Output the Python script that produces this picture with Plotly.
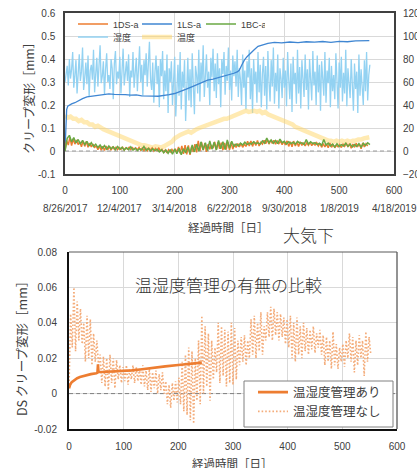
import plotly.graph_objects as go

# ---------------- data ----------------
# bottom chart / 1DS-a (no temperature-humidity control)  [day, mm]
ds_days = [0,3,6,9,12,15,18,21,24,27,30,33,36,39,42,45,48,51,54,57,
           60,63,66,69,72,75,78,81,84,87,90,93,96,99,102,105,108,111,114,117,
           120,123,126,129,132,135,138,141,144,147,150,153,156,159,162,165,168,171,174,177,
           180,183,186,189,192,195,198,201,204,207,210,213,216,219,222,225,228,231,234,237,
           240,243,246,249,252,255,258,261,264,267,270,273,276,279,282,285,288,291,294,297,
           300,303,306,309,312,315,318,321,324,327,330,333,336,339,342,345,348,351,354,357,
           360,363,366,369,372,375,378,381,384,387,390,393,396,399,402,405,408,411,414,417,
           420,423,426,429,432,435,438,441,444,447,450,453,456,459,462,465,468,471,474,477,
           480,483,486,489,492,495,498,501,504,507,510,513,516,519,522,525,528,531,534,537,
           540,543,546,549,552]
ds_vals = [0.003,0.045,0.026,0.060,0.024,0.052,0.030,0.048,0.028,0.040,0.018,0.044,0.020,0.042,0.016,0.034,0.018,0.030,0.016,0.022,
           0.006,0.021,0.004,0.020,0.002,0.022,0.006,0.020,0.003,0.019,0.008,0.016,0.006,0.015,0.007,0.016,0.005,0.014,0.008,0.016,
           0.006,0.015,0.007,0.014,0.005,0.016,0.004,0.013,0.002,0.014,0.001,0.012,0.003,0.013,0.000,0.011,0.002,0.012,0.000,0.007,
           -0.006,0.005,-0.008,0.006,-0.004,0.007,-0.005,0.009,-0.006,0.018,-0.010,0.022,-0.012,0.026,-0.015,0.024,-0.017,0.020,-0.004,0.030,
           -0.006,0.044,0.000,0.038,0.004,0.034,-0.004,0.030,0.008,0.026,0.012,0.040,0.006,0.038,0.010,0.036,0.004,0.035,0.006,0.040,
           0.005,0.037,0.008,0.030,0.016,0.032,0.018,0.033,0.016,0.030,0.020,0.042,0.022,0.044,0.020,0.040,0.024,0.046,0.022,0.038,
           0.030,0.046,0.032,0.049,0.030,0.048,0.033,0.046,0.030,0.045,0.032,0.043,0.028,0.042,0.026,0.044,0.020,0.040,0.018,0.043,
           0.022,0.038,0.020,0.040,0.024,0.037,0.022,0.036,0.025,0.038,0.023,0.034,0.026,0.036,0.022,0.033,0.016,0.032,0.018,0.030,
           0.014,0.035,0.016,0.028,0.014,0.026,0.018,0.028,0.015,0.030,0.020,0.034,0.018,0.032,0.012,0.030,0.016,0.033,0.020,0.030,
           0.010,0.035,0.018,0.032,0.022]

# bottom chart: with temperature-humidity control
ctrl_days = [0,2,5,10,15,20,29,40,50,52,53,54,60,70,84,100,115,130,150,176,200,220,237,243]
ctrl_vals = [0.003,0.005,0.0065,0.0078,0.0087,0.0094,0.0103,0.011,0.0115,0.0118,0.0165,0.0122,
             0.0122,0.0123,0.0124,0.0128,0.0131,0.0136,0.0142,0.0154,0.0162,0.0168,0.0172,0.0175]

# top chart: 1LS-a
ls_days = [0,1,2,3,5,8,12,18,25,32,40,50,60,70,80,90,100,110,120,130,
           140,150,160,170,180,190,200,210,220,230,240,250,260,270,280,290,300,308,315,318,
           322,327,332,338,345,352,360,370,382,395,410,425,440,455,470,485,500,515,530,545,555]
ls_vals = [0.0,0.10,0.16,0.18,0.195,0.20,0.205,0.21,0.22,0.228,0.235,0.238,0.242,0.245,0.248,0.246,0.247,0.245,0.243,0.244,
           0.240,0.241,0.239,0.238,0.240,0.245,0.250,0.258,0.268,0.278,0.288,0.298,0.308,0.312,0.318,0.325,0.330,0.338,0.345,0.352,
           0.372,0.395,0.410,0.425,0.440,0.455,0.462,0.468,0.472,0.470,0.474,0.471,0.475,0.473,0.476,0.472,0.477,0.475,0.479,0.481,0.480]

# top chart: 1BC-a (4-day samples)
d4_days = [0,4,8,12,16,20,24,28,32,36,40,44,48,52,56,60,64,68,72,76,
           80,84,88,92,96,100,104,108,112,116,120,124,128,132,136,140,144,148,152,156,
           160,164,168,172,176,180,184,188,192,196,200,204,208,212,216,220,224,228,232,236,
           240,244,248,252,256,260,264,268,272,276,280,284,288,292,296,300,304,308,312,316,
           320,324,328,332,336,340,344,348,352,356,360,364,368,372,376,380,384,388,392,396,
           400,404,408,412,416,420,424,428,432,436,440,444,448,452,456,460,464,468,472,476,
           480,484,488,492,496,500,504,508,512,516,520,524,528,532,536,540,544,548,552,556]
bc_vals = [0.000,0.055,0.068,0.040,0.058,0.035,0.050,0.030,0.046,0.028,0.042,0.022,0.036,0.020,0.030,0.015,0.026,0.012,0.024,0.008,
           0.022,0.010,0.018,0.006,0.020,0.008,0.016,0.004,0.014,0.006,0.018,0.004,0.012,0.002,0.010,0.004,0.020,0.003,0.012,0.000,
           0.010,0.002,0.008,-0.004,0.006,-0.008,0.004,-0.010,0.006,-0.014,0.008,-0.012,0.012,-0.016,0.010,-0.008,0.018,-0.012,0.026,-0.004,
           0.030,0.000,0.040,0.004,0.036,0.002,0.044,0.008,0.038,0.004,0.046,0.010,0.040,0.006,0.048,0.012,0.042,0.020,0.030,0.022,
           0.034,0.026,0.038,0.028,0.034,0.030,0.040,0.032,0.036,0.030,0.044,0.034,0.056,0.036,0.048,0.034,0.046,0.032,0.052,0.036,
           0.042,0.030,0.040,0.032,0.038,0.030,0.042,0.034,0.036,0.028,0.050,0.030,0.040,0.032,0.036,0.028,0.034,0.024,0.050,0.026,
           0.034,0.022,0.030,0.018,0.032,0.020,0.028,0.022,0.034,0.020,0.030,0.018,0.028,0.020,0.032,0.016,0.034,0.024,0.036,0.028]

# top chart: humidity (2-day samples, %)
d2_days = [0,2,4,6,8,10,12,14,16,18,20,22,24,26,28,30,32,34,36,38,
           40,42,44,46,48,50,52,54,56,58,60,62,64,66,68,70,72,74,76,78,
           80,82,84,86,88,90,92,94,96,98,100,102,104,106,108,110,112,114,116,118,
           120,122,124,126,128,130,132,134,136,138,140,142,144,146,148,150,152,154,156,158,
           160,162,164,166,168,170,172,174,176,178,180,182,184,186,188,190,192,194,196,198,
           200,202,204,206,208,210,212,214,216,218,220,222,224,226,228,230,232,234,236,238,
           240,242,244,246,248,250,252,254,256,258,260,262,264,266,268,270,272,274,276,278,
           280,282,284,286,288,290,292,294,296,298,300,302,304,306,308,310,312,314,316,318,
           320,322,324,326,328,330,332,334,336,338,340,342,344,346,348,350,352,354,356,358,
           360,362,364,366,368,370,372,374,376,378,380,382,384,386,388,390,392,394,396,398,
           400,402,404,406,408,410,412,414,416,418,420,422,424,426,428,430,432,434,436,438,
           440,442,444,446,448,450,452,454,456,458,460,462,464,466,468,470,472,474,476,478,
           480,482,484,486,488,490,492,494,496,498,500,502,504,506,508,510,512,514,516,518,
           520,522,524,526,528,530,532,534,536,538,540,542,544,546,548,550,552,554,556]
hum_vals = [60,68,74,57,80,63,71,86,55,66,79,50,72,84,61,69,90,53,64,77,
            58,83,47,70,75,62,88,51,67,81,56,73,92,59,65,78,49,71,85,60,
            66,54,80,72,45,76,87,58,69,63,82,50,74,89,57,68,78,61,84,47,
            70,64,86,55,73,81,52,67,91,60,75,48,79,66,85,56,71,95,62,53,
            77,42,68,83,58,74,38,80,65,87,45,70,52,84,33,72,60,78,40,66,
            82,30,63,75,48,86,36,69,55,79,26,64,81,44,71,38,85,58,32,74,
            66,50,88,43,77,60,92,47,73,84,55,69,40,81,64,89,52,76,46,85,
            58,72,38,80,67,86,49,74,61,90,53,70,44,83,65,78,56,88,47,72,
            62,40,84,55,70,36,78,64,88,45,72,33,80,58,69,42,86,51,75,38,
            67,82,48,74,36,87,60,43,79,56,90,41,68,52,84,37,72,63,46,81,
            55,70,39,86,62,45,76,34,82,58,68,41,88,50,73,37,79,61,47,84,
            53,71,36,80,64,44,87,57,69,40,83,51,75,35,78,62,48,86,42,70,
            59,81,38,74,52,66,45,85,60,37,77,55,82,43,68,50,88,39,72,57,
            46,80,63,35,76,54,69,33,84,48,71,58,40,79,52,86,44,66,75]

# top chart: temperature (5-day samples, deg C)
t_days = [0,5,10,15,20,25,30,35,40,45,50,55,60,65,70,75,80,85,90,95,
          100,105,110,115,120,125,130,135,140,145,150,155,160,165,170,175,180,185,190,195,
          200,205,210,215,220,225,230,235,240,245,250,255,260,265,270,275,280,285,290,295,
          300,305,310,315,320,325,330,335,340,345,350,355,360,365,370,375,380,385,390,395,
          400,405,410,415,420,425,430,435,440,445,450,455,460,465,470,475,480,485,490,495,
          500,505,510,515,520,525,530,535,540,545,550,555]
t_vals = [31,29,30,28,28,26,27,25,25,23,23,21,22,20,19,18,17,16,15,13,
          12,11,10,9,8,7,7,6,5,5,4,4,3,4,3,3,4,5,6,8,
          11,13,14,15,16,17,16,18,19,20,21,22,23,24,24,25,26,27,28,28,
          29,30,31,32,33,34,35,34,35,35,34,35,33,34,32,31,31,30,29,28,
          27,25,24,23,21,20,19,17,16,15,14,13,12,11,10,10,9,9,8,9,
          8,9,8,9,8,9,9,10,10,11,12,12]

zero_x = [0, 600]
zero_y = [0, 0]

x_ticks = [0, 100, 200, 300, 400, 500, 600]
date_labels = ["8/26/2017", "12/4/2017", "3/14/2018", "6/22/2018", "9/30/2018", "1/8/2019", "4/18/2019"]
top_y_vals = [-0.1, 0, 0.1, 0.2, 0.3, 0.4, 0.5, 0.6]
top_y_text = ["-0.1", "0", "0.1", "0.2", "0.3", "0.4", "0.5", "0.6"]
right_y_vals = [-20, 0, 20, 40, 60, 80, 100, 120]
bot_y_vals = [-0.02, 0, 0.02, 0.04, 0.06, 0.08]
bot_y_text = ["-0.02", "0", "0.02", "0.04", "0.06", "0.08"]

# ---------------- figure ----------------
W, H = 417, 468
NUM = "Liberation Sans, Arial, sans-serif"
JP = "Noto Sans CJK JP, Noto Sans, sans-serif"
GRID = "#d9d9d9"
TXT = "#404040"

def px(x):
    return x / W

def py(y):
    return 1 - y / H

fig = go.Figure()

# top chart – secondary quantities (drawn underneath)
fig.add_trace(go.Scatter(x=d2_days, y=hum_vals, name="湿度", mode="lines",
                         line=dict(color="#93d2f2", width=1.3), xaxis="x", yaxis="y",
                         legend="legend2", legendrank=1))
fig.add_trace(go.Scatter(x=t_days, y=t_vals, name="温度", mode="lines",
                         line=dict(color="rgba(255,214,102,0.5)", width=4.5), xaxis="x", yaxis="y",
                         legend="legend2", legendrank=2))
# top chart – creep
fig.add_trace(go.Scatter(x=zero_x, y=zero_y, mode="lines", showlegend=False, hoverinfo="skip",
                         line=dict(color="#9a9a9a", width=1, dash="4px,3px"), xaxis="x", yaxis="y2"))
fig.add_trace(go.Scatter(x=ls_days, y=ls_vals, name="1LS-a", mode="lines",
                         line=dict(color="#3f86d2", width=1.3), xaxis="x", yaxis="y2",
                         legend="legend", legendrank=2))
fig.add_trace(go.Scatter(x=ds_days, y=ds_vals, name="1DS-a", mode="lines",
                         line=dict(color="#ed7d31", width=1.5), xaxis="x", yaxis="y2",
                         legend="legend", legendrank=1))
fig.add_trace(go.Scatter(x=d4_days, y=bc_vals, name="1BC-a", mode="lines",
                         line=dict(color="#6aa843", width=1.5), xaxis="x", yaxis="y2",
                         legend="legend", legendrank=3))

# bottom chart
fig.add_trace(go.Scatter(x=zero_x, y=zero_y, mode="lines", showlegend=False, hoverinfo="skip",
                         line=dict(color="#7f7f7f", width=1, dash="4px,3px"), xaxis="x2", yaxis="y3"))
fig.add_trace(go.Scatter(x=ds_days, y=ds_vals, name="温湿度管理なし", mode="lines",
                         line=dict(color="#f4ac7a", width=1.6, dash="1.6px,2px"), xaxis="x2", yaxis="y3",
                         legend="legend3", legendrank=2))
fig.add_trace(go.Scatter(x=ctrl_days, y=ctrl_vals, name="温湿度管理あり", mode="lines",
                         line=dict(color="#ed7d31", width=2.6), xaxis="x2", yaxis="y3",
                         legend="legend3", legendrank=1))

axis_common = dict(showgrid=True, gridcolor=GRID, gridwidth=1, zeroline=False, ticks="",
                   automargin=False, tickfont=dict(family=NUM, size=10, color=TXT))

annotations = []
for xv, lab in zip(x_ticks, date_labels):
    annotations.append(dict(x=xv, y=py(209), xref="x", yref="paper", text=lab, showarrow=False,
                            xanchor="center", yanchor="middle",
                            font=dict(family=NUM, size=10, color=TXT)))

def note(x, y, text, size, angle=0, color=TXT, weight=None):
    f = dict(family=JP, size=size, color=color)
    if weight:
        f["weight"] = weight
    return dict(x=px(x), y=py(y), xref="paper", yref="paper", text=text, textangle=angle,
                xanchor="center", yanchor="middle", showarrow=False, font=f)

annotations += [
    note(29, 95, "クリープ変形［mm］", 12, -90),
    note(228, 227, "経過時間［日］", 11.5),
    note(308, 234, "大気下", 17, color="#333333", weight=300),
    note(21, 346, "DS クリープ変形［mm］", 12.5, -90),
    note(232, 463, "経過時間［日］", 11.5),
    note(228, 284, "温湿度管理の有無の比較", 17, color="#333333", weight=300),
]

shapes = [
    # bottom chart: thin top and right frame
    dict(type="line", xref="x2 domain", yref="y3 domain", x0=0, x1=1, y0=1, y1=1,
         line=dict(color="#595959", width=1)),
    dict(type="line", xref="x2 domain", yref="y3 domain", x0=1, x1=1, y0=0, y1=1,
         line=dict(color="#595959", width=1.3)),
    # bottom legend box
    dict(type="rect", xref="paper", yref="paper", x0=px(244), x1=px(393), y0=py(427), y1=py(381),
         fillcolor="white", line=dict(color="#808080", width=1), layer="above"),
]

fig.update_layout(
    width=W, height=H, margin=dict(l=0, r=0, t=0, b=0, autoexpand=False),
    paper_bgcolor="white", plot_bgcolor="white",
    xaxis=dict(domain=[px(65), px(394)], range=[0, 600], tickvals=x_ticks, anchor="y",
               showline=True, linecolor="#404040", linewidth=1.5, mirror=True,
               ticklabelstandoff=6, **axis_common),
    yaxis=dict(domain=[py(174), py(13)], range=[-20, 120], tickvals=right_y_vals, side="right",
               anchor="x", showline=False, ticklabelstandoff=8, **axis_common),
    yaxis2=dict(overlaying="y", side="left", range=[-0.1, 0.6], tickvals=top_y_vals, ticktext=top_y_text,
                anchor="x", showgrid=False, zeroline=False, ticks="", automargin=False,
                showline=True, linecolor="#404040", linewidth=1.5, mirror=True,
                tickfont=dict(family=NUM, size=10, color=TXT), ticklabelstandoff=6),
    xaxis2=dict(domain=[px(69), px(397)], range=[0, 600], tickvals=x_ticks, anchor="y3",
                showline=True, linecolor="#111111", linewidth=2, ticklabelstandoff=7, **axis_common),
    yaxis3=dict(domain=[py(429), py(252)], range=[-0.02, 0.08], tickvals=bot_y_vals, ticktext=bot_y_text,
                anchor="x2", showline=True, linecolor="#111111", linewidth=2, ticklabelstandoff=8,
                **axis_common),
    legend=dict(orientation="h", x=px(73), y=py(24), xanchor="left", yanchor="middle",
                bgcolor="rgba(0,0,0,0)", borderwidth=0, itemwidth=30,
                entrywidth=19, entrywidthmode="pixels",
                font=dict(family=NUM, size=9, color=TXT)),
    legend2=dict(orientation="h", x=px(73), y=py(37), xanchor="left", yanchor="middle",
                 bgcolor="rgba(0,0,0,0)", borderwidth=0, itemwidth=30,
                 entrywidth=19, entrywidthmode="pixels",
                 font=dict(family=JP, size=9, color=TXT)),
    legend3=dict(orientation="v", x=px(253), y=py(402), xanchor="left", yanchor="middle",
                 bgcolor="rgba(0,0,0,0)", borderwidth=0, itemwidth=30, tracegroupgap=0,
                 font=dict(family=JP, size=12.5, color=TXT)),
    annotations=annotations,
    shapes=shapes,
    showlegend=True,
)

fig.write_html("out.html", config={"displayModeBar": False},
               post_script="document.body.style.margin='0';document.body.style.overflow='hidden';")
